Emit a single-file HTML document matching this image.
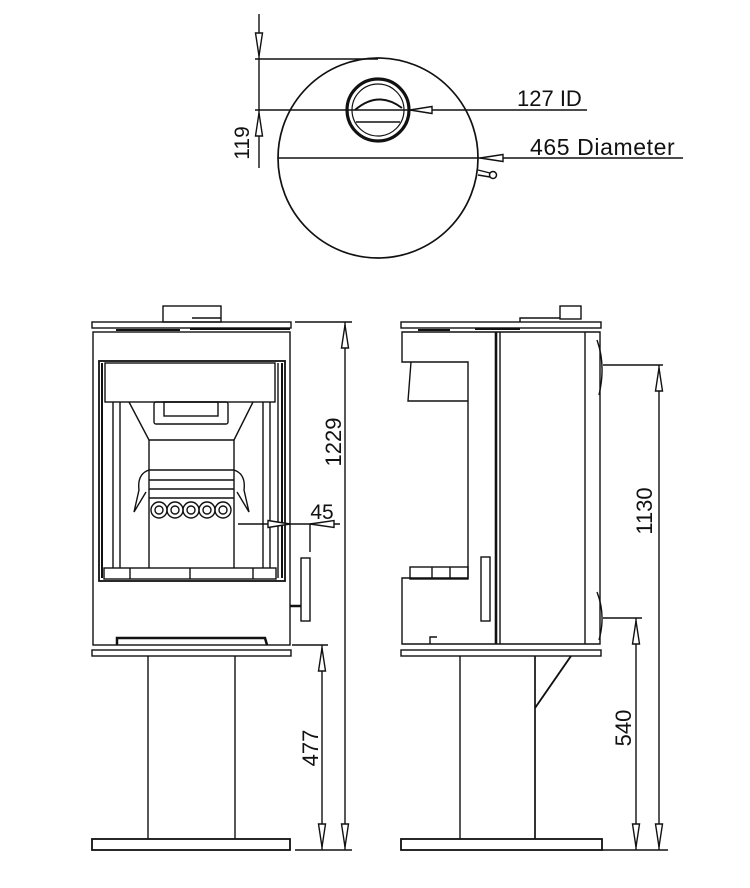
<!DOCTYPE html>
<html><head><meta charset="utf-8"><style>
html,body{margin:0;padding:0;background:#fff;width:750px;height:888px;overflow:hidden}
svg{display:block}
text{font-family:"Liberation Sans",sans-serif;fill:#111}
</style></head><body>
<svg width="750" height="888" viewBox="0 0 750 888" xmlns="http://www.w3.org/2000/svg">
<g fill="none" stroke="#111" stroke-width="1.4">
<!-- TOP VIEW -->
<circle cx="378" cy="158" r="100" stroke-width="1.7"/>
<circle cx="378" cy="110" r="31" stroke-width="3.2"/>
<circle cx="378" cy="110" r="26" stroke-width="1.2"/>
<path d="M355,110 Q378,90 402,108" stroke-width="2"/>
<line x1="356" y1="122" x2="400" y2="122"/>
<line x1="259" y1="14" x2="259" y2="168"/>
<line x1="255" y1="59" x2="378" y2="59"/>
<line x1="255" y1="110" x2="587" y2="110"/>
<line x1="278" y1="158" x2="683" y2="158"/>
<path d="M259,56 L255.5,33 L262.5,33 Z" fill="#fff"/>
<path d="M259,113 L255.5,136 L262.5,136 Z" fill="#fff"/>
<path d="M410,110 L432,106.5 L432,113.5 Z" fill="#fff"/>
<path d="M480,158 L503,154.5 L503,161.5 Z" fill="#fff"/>
<path d="M478,170 L490,173 M478,175 L490,177"/>
<circle cx="493" cy="175" r="3.5" stroke-width="1.5"/>

<!-- FRONT VIEW -->
<rect x="163" y="306" width="58" height="16"/>
<line x1="192" y1="318" x2="221" y2="318"/>
<rect x="92" y="322" width="199" height="6"/>
<path d="M116,330 L180,330 M190,329 L290,329" stroke-width="2"/>
<rect x="93" y="332" width="197" height="313"/>
<rect x="99" y="361" width="186" height="220" stroke-width="1.8"/>
<line x1="102" y1="363" x2="102" y2="578" stroke-width="2"/>
<line x1="282" y1="363" x2="282" y2="578" stroke-width="2"/>
<line x1="278" y1="363" x2="278" y2="578"/>
<rect x="105" y="363" width="170" height="39"/>
<line x1="113" y1="402" x2="113" y2="568"/>
<line x1="120" y1="402" x2="120" y2="568"/>
<line x1="263" y1="402" x2="263" y2="568"/>
<line x1="270" y1="402" x2="270" y2="568"/>
<path d="M129,402 L149,440 L234,440 L253,402"/>
<rect x="154" y="402" width="74" height="22" rx="2"/>
<rect x="164" y="402" width="54" height="14"/>
<line x1="149" y1="440" x2="149" y2="568"/>
<line x1="234" y1="440" x2="234" y2="568"/>
<rect x="104" y="568" width="172" height="11"/>
<line x1="130" y1="568" x2="130" y2="579"/><line x1="190" y1="568" x2="190" y2="579"/><line x1="253" y1="568" x2="253" y2="579"/>
<path d="M149,470 L234,470 M149,480 L234,480 M149,489 L234,489 M149,498 L234,498"/>
<path d="M149,470 Q137,474 139,490 L134,512 L146,492 M234,470 Q246,474 244,490 L249,512 L237,492"/>
<g stroke-width="1.4">
<circle cx="159" cy="510" r="8"/><circle cx="159" cy="510" r="4"/>
<circle cx="175" cy="510" r="8"/><circle cx="175" cy="510" r="4"/>
<circle cx="191" cy="510" r="8"/><circle cx="191" cy="510" r="4"/>
<circle cx="207" cy="510" r="8"/><circle cx="207" cy="510" r="4"/>
<circle cx="223" cy="510" r="8"/><circle cx="223" cy="510" r="4"/>
</g>
<rect x="301" y="558" width="9" height="63"/>
<line x1="290" y1="606" x2="301" y2="606" stroke-width="2.5"/>
<path d="M117,645 L117,638 L265,638 L267,645" stroke-width="2.5"/>
<rect x="92" y="650" width="199" height="6"/>
<line x1="148" y1="656" x2="148" y2="839"/>
<line x1="235" y1="656" x2="235" y2="839"/>
<rect x="92" y="839" width="198" height="11" stroke-width="1.8"/>
<!-- front dims -->
<line x1="295" y1="322" x2="352" y2="322"/>
<line x1="295" y1="850" x2="352" y2="850"/>
<line x1="345" y1="322" x2="345" y2="850"/>
<path d="M345,325 L341.5,348 L348.5,348 Z" fill="#fff"/>
<path d="M345,847 L341.5,824 L348.5,824 Z" fill="#fff"/>
<line x1="292" y1="645" x2="328" y2="645"/>
<line x1="322" y1="645" x2="322" y2="850"/>
<path d="M322,648 L318.5,671 L325.5,671 Z" fill="#fff"/>
<path d="M322,847 L318.5,824 L325.5,824 Z" fill="#fff"/>
<line x1="238" y1="524" x2="340" y2="524"/>
<line x1="310" y1="524" x2="310" y2="552"/>
<path d="M290,524 L268,520.5 L268,527.5 Z" fill="#fff"/>
<path d="M310,524 L334,520.5 L334,527.5 Z" fill="#fff"/>

<!-- SIDE VIEW -->
<rect x="560" y="306" width="21" height="13"/>
<path d="M520,322 L520,318 L560,318"/>
<rect x="401" y="322" width="200" height="6"/>
<path d="M418,330 L450,330 M475,329 L520,329" stroke-width="2"/>
<path d="M402,332 L600,332 L600,644 L402,644 L402,578 L468,578 L468,362 L402,362 Z"/>
<path d="M411,362 L408,401 L468,401"/>
<rect x="410" y="567" width="58" height="12"/>
<line x1="432" y1="567" x2="432" y2="579"/><line x1="450" y1="567" x2="450" y2="579"/>
<line x1="496" y1="332" x2="496" y2="644" stroke-width="2.6"/>
<line x1="500" y1="332" x2="500" y2="644"/>
<line x1="585" y1="332" x2="585" y2="644"/>
<path d="M597,340 Q606,365 599,395 M597,592 Q606,615 599,640"/>
<rect x="481" y="557" width="9" height="64"/>
<path d="M430,644 L430,637 L437,637"/>
<rect x="401" y="650" width="200" height="6"/>
<line x1="460" y1="656" x2="460" y2="839"/>
<line x1="535" y1="656" x2="535" y2="839" stroke-width="1.7"/>
<path d="M535,708 L571,656" stroke-width="1.9"/>
<rect x="401" y="839" width="201" height="11" stroke-width="1.8"/>
<!-- side dims -->
<line x1="603" y1="365" x2="663" y2="365"/>
<line x1="603" y1="618" x2="642" y2="618"/>
<line x1="602" y1="850" x2="668" y2="850"/>
<line x1="659" y1="365" x2="659" y2="850"/>
<path d="M659,368 L655.5,391 L662.5,391 Z" fill="#fff"/>
<path d="M659,847 L655.5,824 L662.5,824 Z" fill="#fff"/>
<line x1="636" y1="618" x2="636" y2="850"/>
<path d="M636,621 L632.5,644 L639.5,644 Z" fill="#fff"/>
<path d="M636,847 L632.5,824 L639.5,824 Z" fill="#fff"/>
</g>
<text x="517" y="106" font-size="22">127 ID</text>
<text x="530" y="155" font-size="23" letter-spacing="0.6">465 Diameter</text>
<text transform="translate(249,143) rotate(-90)" font-size="21" text-anchor="middle">119</text>
<text transform="translate(341,442) rotate(-90)" font-size="22" text-anchor="middle">1229</text>
<text x="322" y="519" font-size="21" text-anchor="middle">45</text>
<text transform="translate(318,748) rotate(-90)" font-size="22" text-anchor="middle">477</text>
<text transform="translate(652,511) rotate(-90)" font-size="22" text-anchor="middle">1130</text>
<text transform="translate(631,728) rotate(-90)" font-size="22" text-anchor="middle">540</text>
</svg>
</body></html>
